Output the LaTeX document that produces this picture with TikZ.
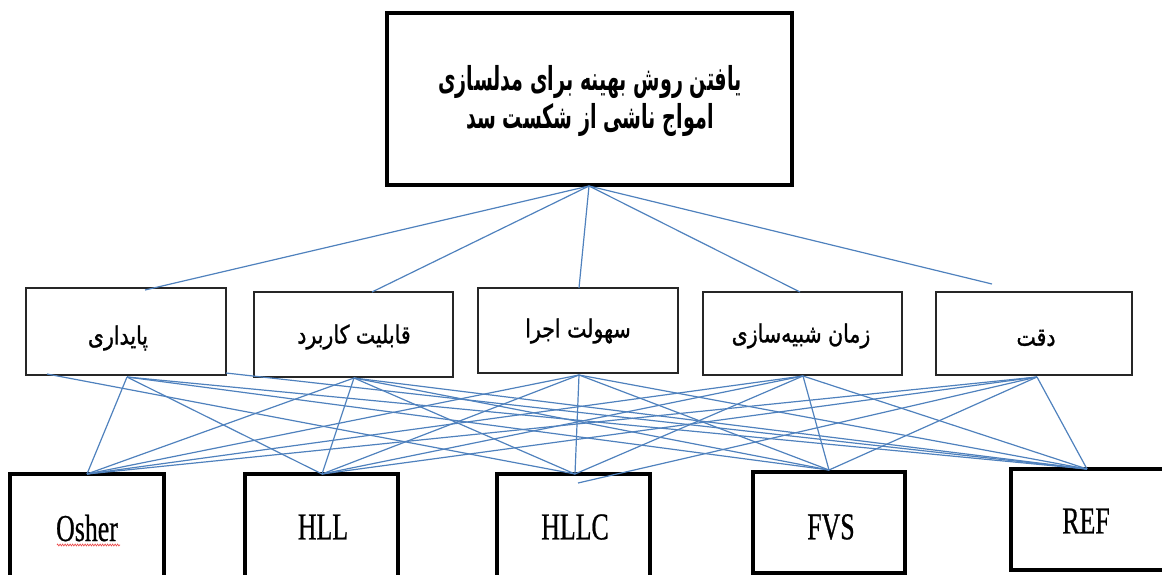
\documentclass[tikz,border=0pt]{standalone}
\usepackage{fontspec}
\usetikzlibrary{decorations.pathmorphing}
\TeXXeTstate=1
\newfontfamily\fa[Script=Arabic,FakeStretch=0.82,FakeBold=1.2]{DejaVu Sans}
\newfontfamily\fab[Script=Arabic,FakeStretch=0.58]{DejaVu Sans Bold}
\newfontfamily\lat[FakeStretch=0.68,FakeBold=0.6]{Liberation Serif}
\definecolor{conncol}{RGB}{79,129,189}
\definecolor{squig}{RGB}{235,70,70}
\begin{document}
\begin{tikzpicture}[x=1pt,y=-1pt,
  thickbox/.style={draw=black, line width=4.5pt, inner sep=0pt},
  midbox/.style={draw=black!85, line width=2pt, inner sep=0pt},
  midtxt/.style={font=\fa\fontsize{25}{28}\selectfont, inner sep=0pt},
  lattxt/.style={font=\lat\fontsize{38}{40}\selectfont, inner sep=0pt},
  conn/.style={draw=conncol, line width=1.2pt}]
\useasboundingbox (0,0) rectangle (1162,575);
\clip (0,0) rectangle (1162,575);
% top box
\node[thickbox, minimum width=405pt, minimum height=172pt] (top) at (589.5,99) {};
\node[align=center, inner sep=0pt, font=\fab\fontsize{33}{38}\selectfont] (toptxt) at (590,101)
  {\beginR یافتن روش بهینه برای مدلسازی\endR\\\beginR امواج ناشی از شکست سد\endR};
% middle boxes
\node[midbox, minimum width=200pt, minimum height=87pt] (m1) at (126,331.5) {};
\node[midbox, minimum width=199pt, minimum height=85pt] (m2) at (353.5,334.5) {};
\node[midbox, minimum width=200pt, minimum height=85pt] (m3) at (578,330.5) {};
\node[midbox, minimum width=199pt, minimum height=83pt] (m4) at (802.5,333.5) {};
\node[midbox, minimum width=196pt, minimum height=83pt] (m5) at (1034,333.5) {};
\node[midtxt] (l1) at (118,338) {\beginR پایداری\endR};
\node[midtxt] (l2) at (354,337) {\beginR قابلیت کاربرد\endR};
\node[midtxt] (l3) at (578,331) {\beginR سهولت اجرا\endR};
\node[midtxt] (l4) at (801,336) {\beginR زمان شبیه‌سازی\endR};
\node[midtxt] (l5) at (1036,338) {\beginR دقت\endR};
% bottom boxes
\node[thickbox, minimum width=154pt, minimum height=126pt] (b1) at (87,537) {};
\node[thickbox, minimum width=153pt, minimum height=126pt] (b2) at (321.5,537) {};
\node[thickbox, minimum width=153pt, minimum height=126pt] (b3) at (573.5,537) {};
\node[thickbox, minimum width=152pt, minimum height=101pt] (b4) at (829,522.5) {};
\node[thickbox, minimum width=159pt, minimum height=101pt] (b5) at (1090.5,519.5) {};
\node[lattxt] (t1) at (87,528) {Osher};
\node[lattxt] (t2) at (323,527) {HLL};
\node[lattxt] (t3) at (575,527) {HLLC};
\node[lattxt] (t4) at (831,527) {FVS};
\node[lattxt] (t5) at (1086,521) {REF};
\coordinate (sq1) at (57,545);
\coordinate (sq2) at (120,545);
\draw[squig, line width=0.6pt, decorate, decoration={zigzag, amplitude=1pt, segment length=2.5pt}] (sq1) -- (sq2);
% anchor points
\coordinate (ta) at (589,186);
\coordinate (m1n) at (145,290);
\coordinate (m2n) at (372,292);
\coordinate (m3n) at (579,288);
\coordinate (m4n) at (800,292);
\coordinate (m5n) at (992,284);
\coordinate (m1s) at (127,377);
\coordinate (m1l) at (47,374);
\coordinate (m1r) at (226,373);
\coordinate (m2s) at (354,378);
\coordinate (m3s) at (579,375);
\coordinate (m4s) at (803,376);
\coordinate (m5s) at (1037,377);
\coordinate (b1n) at (87,474);
\coordinate (b2n) at (322,474);
\coordinate (b3n) at (575,474);
\coordinate (b3i) at (578,483);
\coordinate (b4n) at (829,470);
\coordinate (b5n) at (1087,469);
% top connectors
\foreach \m in {m1n,m2n,m3n,m4n,m5n} \draw[conn] (ta) -- (\m);
% middle to bottom
\foreach \b in {b1n,b2n,b4n,b5n} \draw[conn] (m1s) -- (\b);
\draw[conn] (m1l) -- (b3n);
\draw[conn] (m1r) -- (b5n);
\foreach \s in {m2s,m3s,m4s} {
  \foreach \b in {b1n,b2n,b3n,b4n,b5n} \draw[conn] (\s) -- (\b);
}
\foreach \b in {b1n,b2n,b4n,b5n} \draw[conn] (m5s) -- (\b);
\draw[conn] (m5s) -- (b3i);
\end{tikzpicture}
\end{document}
